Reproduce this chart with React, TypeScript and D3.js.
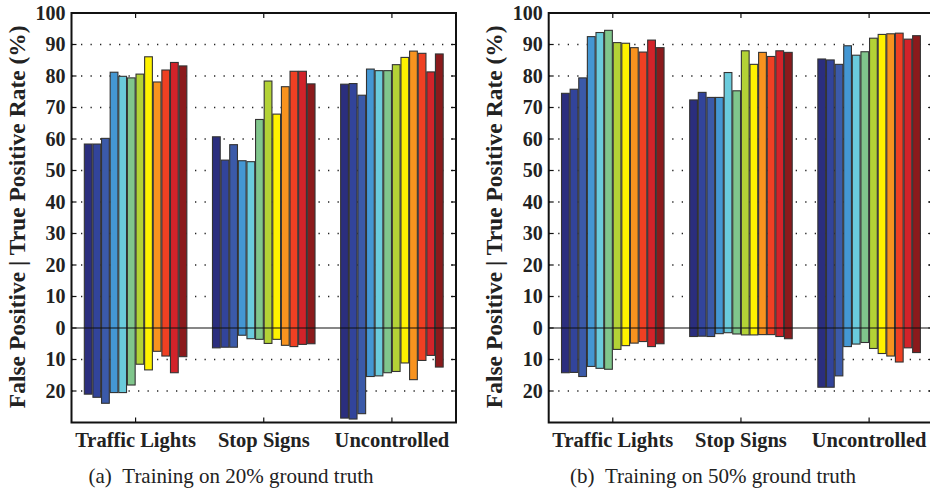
import React, { useEffect, useRef } from 'react';
import * as d3 from 'd3';

const groups = ['Traffic Lights', 'Stop Signs', 'Uncontrolled'];
const yTicks = [100, 90, 80, 70, 60, 50, 40, 30, 20, 10, 0, -10, -20];
const gridTicks = [90, 80, 70, 60, 50, 40, 30, 20, 10, -10, -20];

const colors = [
  '#2b2e7e', '#32449b', '#3b5aa9', '#4497d3', '#6acbdc', '#80c68c',
  '#b3d236', '#fff200', '#f8931f', '#ef4023', '#d2232a', '#8b1a1c',
];

// true positive rates (%), panel (a) 20% ground truth
const tp20Traffic = [58.4, 58.4, 60.2, 81.2, 79.9, 79.4, 80.6, 86.1, 78.1, 81.9, 84.3, 83.2];
const tp20Stop = [60.7, 53.3, 58.2, 53.1, 52.8, 66.2, 78.4, 67.9, 76.6, 81.5, 81.5, 77.5];
const tp20Unc = [77.4, 77.6, 73.9, 82.2, 81.7, 81.7, 83.6, 85.9, 87.9, 87.2, 81.3, 87.0];
// false positive rates (%), panel (a)
const fp20Traffic = [21.0, 22.0, 23.9, 20.5, 20.5, 18.1, 11.5, 13.3, 7.4, 8.9, 14.2, 9.1];
const fp20Stop = [6.3, 6.1, 6.1, 2.3, 3.4, 3.6, 4.9, 3.6, 5.5, 5.9, 5.2, 5.0];
const fp20Unc = [28.6, 28.9, 27.2, 15.4, 15.2, 14.2, 13.8, 11.1, 16.4, 10.3, 8.7, 12.4];

// panel (b) 50% ground truth
const tp50Traffic = [74.5, 75.8, 79.4, 92.5, 93.8, 94.5, 90.6, 90.4, 89.0, 87.6, 91.4, 89.0];
const tp50Stop = [72.4, 74.8, 73.2, 73.2, 81.1, 75.3, 88.0, 83.7, 87.5, 86.2, 88.0, 87.5];
const tp50Unc = [85.4, 85.1, 83.7, 89.6, 86.6, 87.7, 92.0, 93.2, 93.4, 93.6, 91.7, 92.8];
const fp50Traffic = [14.2, 14.1, 15.4, 12.2, 12.8, 13.1, 6.8, 5.6, 4.8, 4.3, 5.9, 5.0];
const fp50Stop = [2.7, 2.6, 2.7, 1.8, 1.5, 1.9, 2.2, 2.2, 2.1, 2.1, 2.7, 3.4];
const fp50Unc = [18.8, 18.8, 15.2, 5.9, 5.1, 4.6, 6.5, 8.1, 8.9, 10.8, 6.3, 7.8];

const panels = [
  {
    left: 71.5, caption: '(a)\u00a0\u00a0Training on 20% ground truth', captionX: 231,
    tp: [tp20Traffic, tp20Stop, tp20Unc], fp: [fp20Traffic, fp20Stop, fp20Unc],
  },
  {
    left: 548.7, caption: '(b)\u00a0\u00a0Training on 50% ground truth', captionX: 713,
    tp: [tp50Traffic, tp50Stop, tp50Unc], fp: [fp50Traffic, fp50Stop, fp50Unc],
  },
];

const FONT = '"Liberation Serif", "Times New Roman", serif';

const App = () => {
  const ref = useRef<SVGSVGElement | null>(null);

  useEffect(() => {
    if (!ref.current) return;
    const svg = d3.select(ref.current);
    svg.selectAll('*').remove();

    const top = 13, bottom = 422.5, plotW = 384.5;
    const y = d3.scaleLinear().domain([-30, 100]).range([bottom, top]);

    panels.forEach(p => {
      const g = svg.append('g').attr('transform', `translate(${p.left},0)`);
      const x0 = d3.scaleBand().domain(groups).range([0, plotW]);
      const bw = x0.bandwidth();
      const x1 = d3.scaleBand<number>()
        .domain(d3.range(12))
        .range([bw * 0.1, bw * 0.9])
        .paddingInner(0.1);

      // dotted grid
      g.append('g').selectAll('line').data(gridTicks).enter().append('line')
        .attr('x1', 0).attr('x2', plotW)
        .attr('y1', d => y(d)).attr('y2', d => y(d))
        .attr('stroke', '#222').attr('stroke-width', 1.3)
        .attr('stroke-dasharray', '1.3,8.2');

      // bars, one rect from -FP to TP
      groups.forEach((grp, gi) => {
        g.append('g').selectAll('rect').data(d3.range(12)).enter().append('rect')
          .attr('x', i => (x0(grp) as number) + (x1(i) as number))
          .attr('width', x1.bandwidth())
          .attr('y', i => y(p.tp[gi][i]))
          .attr('height', i => y(-p.fp[gi][i]) - y(p.tp[gi][i]))
          .attr('fill', i => colors[i])
          .attr('stroke', '#333').attr('stroke-width', 1.1);
      });

      // zero line
      g.append('line').attr('x1', 0).attr('x2', plotW)
        .attr('y1', y(0)).attr('y2', y(0))
        .attr('stroke', '#111').attr('stroke-width', 1.2);

      // ticks
      yTicks.forEach(t => {
        g.append('line').attr('x1', 0).attr('x2', 5).attr('y1', y(t)).attr('y2', y(t))
          .attr('stroke', '#111').attr('stroke-width', 1.2);
        g.append('line').attr('x1', plotW - 5).attr('x2', plotW).attr('y1', y(t)).attr('y2', y(t))
          .attr('stroke', '#111').attr('stroke-width', 1.2);
        g.append('text').attr('x', -6).attr('y', y(t)).attr('dy', '0.34em')
          .attr('text-anchor', 'end').attr('font-family', FONT).attr('font-weight', 'bold')
          .attr('font-size', 20).attr('fill', '#222')
          .text(Math.abs(t));
      });
      groups.forEach(grp => {
        const cx = (x0(grp) as number) + bw / 2;
        g.append('line').attr('x1', cx).attr('x2', cx).attr('y1', top).attr('y2', top + 5)
          .attr('stroke', '#111').attr('stroke-width', 1.2);
        g.append('line').attr('x1', cx).attr('x2', cx).attr('y1', bottom).attr('y2', bottom - 5)
          .attr('stroke', '#111').attr('stroke-width', 1.2);
        g.append('text').attr('x', cx).attr('y', 447).attr('text-anchor', 'middle')
          .attr('font-family', FONT).attr('font-weight', 'bold').attr('font-size', 20.5)
          .attr('fill', '#222').text(grp);
      });

      // box
      g.append('rect').attr('x', 0).attr('y', top).attr('width', plotW).attr('height', bottom - top)
        .attr('fill', 'none').attr('stroke', '#111').attr('stroke-width', 2);

      // y label
      g.append('text')
        .attr('transform', `translate(-47,${(top + bottom) / 2 - 1}) rotate(-90)`)
        .attr('text-anchor', 'middle').attr('font-family', FONT).attr('font-weight', 'bold')
        .attr('font-size', 23.5).attr('fill', '#222')
        .text('False Positive | True Positive Rate (%)');

      // caption
      svg.append('text').attr('x', p.captionX).attr('y', 483).attr('text-anchor', 'middle')
        .attr('font-family', FONT).attr('font-size', 21).attr('fill', '#222')
        .text(p.caption);
    });
  }, []);

  return (
    <svg ref={ref} width={930} height={492}
      style={{ position: 'absolute', left: 0, top: 0, background: '#fff' }} />
  );
};

export default App;
